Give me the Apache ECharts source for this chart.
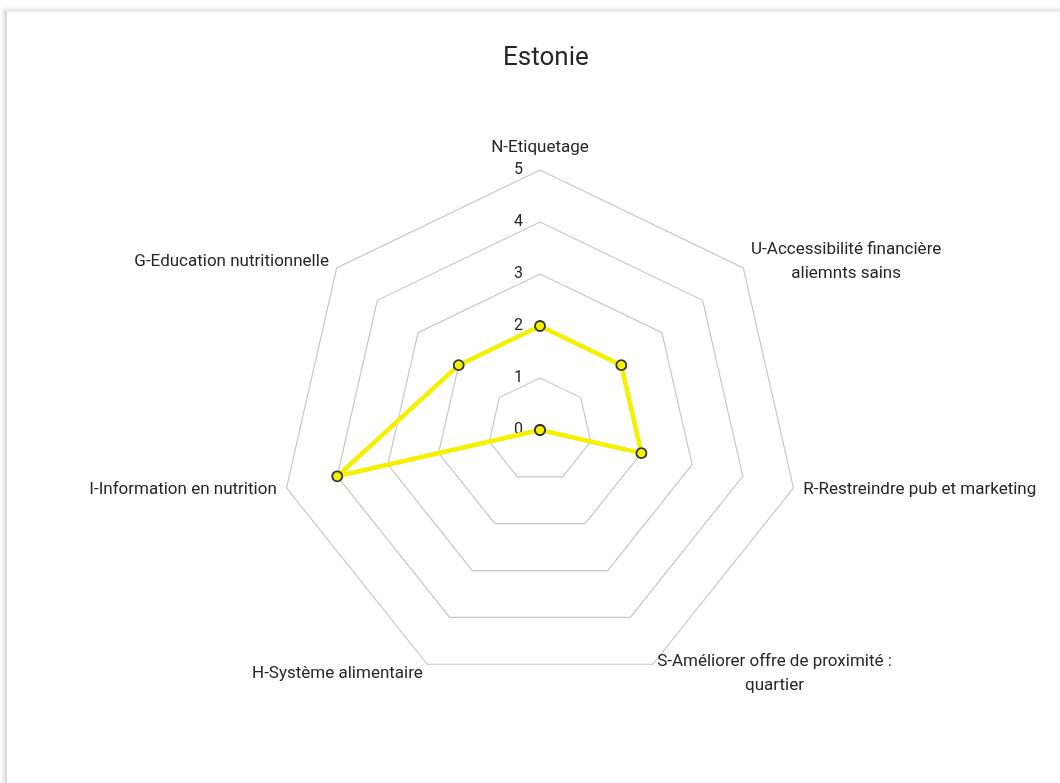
<!DOCTYPE html>
<html lang="fr">
<head>
    <meta charset="UTF-8">
    <title>Estonie</title>
    <script src="https://cdn.jsdelivr.net/npm/echarts@6/dist/echarts.min.js"></script>
    <style>
        html, body { margin: 0; padding: 0; background: #ffffff; }
        /* frame like the original chart border */
        #frame {
            position: absolute; left: 5px; top: 10px; width: 1100px; height: 800px;
            border-left: 2px solid #d9d9d9; border-top: 2px solid #ececec;
            box-shadow: -2px -1px 4px rgba(0,0,0,0.12);
        }
        #chart { position: absolute; left: 0; top: 0; width: 1060px; height: 783px; }
    </style>
</head>
<body>
    <div id="frame"></div>
    <div id="chart"></div>
    <script>
        // axes in clockwise order starting at top
        var categories = [
            'N-Etiquetage',
            'U-Accessibilité financière\naliemnts sains',
            'R-Restreindre pub et marketing',
            'S-Améliorer offre de proximité :\nquartier',
            'H-Système alimentaire',
            'I-Information en nutrition',
            'G-Education nutritionnelle'
        ];
        var values = [2, 2, 2, 0, 0, 4, 2];
        var axisMax = 5;

        var chart = echarts.init(document.getElementById('chart'));

        // echarts lays indicators counter-clockwise, so reverse the tail
        var order = [0];
        for (var i = categories.length - 1; i > 0; i--) order.push(i);

        var indicator = order.map(function (idx, k) {
            var ind = { name: categories[idx], min: 0, max: axisMax };
            if (k === 0) {
                ind.axisLabel = {
                    show: true, color: '#262626', fontSize: 16,
                    fontFamily: 'Roboto', margin: 17
                };
            }
            return ind;
        });

        var option = {
            title: {
                text: 'Estonie',
                left: 498,
                top: 40,
                textStyle: { fontFamily: 'Roboto', fontSize: 26, fontWeight: 'normal', color: '#262626' }
            },
            radar: {
                center: [540, 430],
                radius: 260,
                startAngle: 90,
                shape: 'polygon',
                splitNumber: 5,
                nameGap: 10,
                axisName: {
                    color: '#262626',
                    // center each line of a wrapped name
                    formatter: function (name) {
                        return name.split('\n').map(function (l) { return '{c|' + l + '}'; }).join('\n');
                    },
                    rich: {
                        c: { align: 'center', color: '#262626', fontFamily: 'Roboto', fontSize: 17, lineHeight: 24 }
                    }
                },
                axisLine: { show: false },
                axisTick: { show: false },
                axisLabel: { show: false },
                splitArea: { show: false },
                splitLine: { lineStyle: { color: '#c6c6c6', width: 1.2 } },
                indicator: indicator
            },
            series: [{
                type: 'radar',
                symbol: 'circle',
                symbolSize: 10,
                data: [{
                    value: order.map(function (idx) { return values[idx]; }),
                    name: 'Estonie'
                }],
                lineStyle: { color: '#f5f000', width: 4.5 },
                itemStyle: { color: '#f5f000', borderColor: '#333333', borderWidth: 1.8 }
            }]
        };

        chart.setOption(option);
    </script>
</body>
</html>
